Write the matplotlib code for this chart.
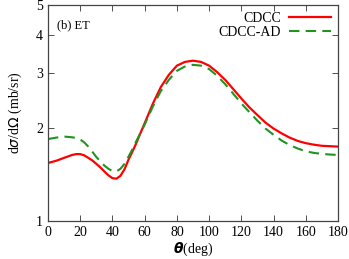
import matplotlib
matplotlib.use("Agg")
import matplotlib.pyplot as plt
from matplotlib.ticker import FixedLocator, NullLocator, FixedFormatter

# angles (deg) and cross sections (mb/sr)
theta = [0, 5, 10, 15, 17.5, 20, 22.5, 25, 27.5, 30, 32.5, 35, 37.5, 40, 42.5, 45,
         47.5, 50, 52.5, 55, 57.5, 60, 65, 70, 75, 80, 85, 90, 95, 100, 105, 110,
         115, 120, 125, 130, 135, 140, 145, 150, 155, 160, 165, 170, 175, 180]
cdcc = [1.54, 1.565, 1.60, 1.635, 1.645, 1.645, 1.63, 1.60, 1.57, 1.53, 1.49, 1.445,
        1.405, 1.375, 1.37, 1.40, 1.47, 1.58, 1.68, 1.795, 1.93, 2.07, 2.39, 2.71,
        2.97, 3.18, 3.27, 3.30, 3.27, 3.18, 3.03, 2.86, 2.67, 2.49, 2.33, 2.20, 2.08,
        1.99, 1.92, 1.86, 1.815, 1.785, 1.765, 1.75, 1.745, 1.74]
cdcc_ad = [1.84, 1.86, 1.875, 1.865, 1.855, 1.835, 1.795, 1.74, 1.675, 1.61, 1.56,
           1.51, 1.475, 1.45, 1.447, 1.475, 1.53, 1.615, 1.71, 1.82, 1.93, 2.05,
           2.34, 2.63, 2.86, 3.06, 3.16, 3.20, 3.18, 3.10, 2.95, 2.77, 2.58, 2.40,
           2.25, 2.11, 1.99, 1.90, 1.82, 1.76, 1.715, 1.68, 1.66, 1.648, 1.64, 1.635]
yticks = [1, 2, 3, 4, 5]
xticks = list(range(0, 181, 20))

plt.rcParams["font.family"] = ["Liberation Serif", "DejaVu Serif"]
plt.rcParams["mathtext.fontset"] = "dejavusans"

fig = plt.figure(figsize=(3.49, 2.59), dpi=100)
ax = fig.add_axes([0.1375, 0.147, 0.831, 0.834])

ax.plot(theta, cdcc, color="#ff0000", lw=1.6, label="CDCC")
ax.plot(theta, cdcc_ad, color="#1f951f", lw=1.5, ls=(0, (5, 3)), label="CDCC-AD")

ax.set_yscale("log")
ax.set_xlim(0, 180)
ax.set_ylim(1, 5)
ax.yaxis.set_major_locator(FixedLocator(yticks))
ax.yaxis.set_major_formatter(FixedFormatter([str(t) for t in yticks]))
ax.yaxis.set_minor_locator(NullLocator())
ax.set_xticks(xticks)

ax.tick_params(direction="in", top=True, right=True, length=4, width=0.6,
               labelsize=10, colors="#333333", labelcolor="black")
for s in ax.spines.values():
    s.set_linewidth(0.9)
    s.set_color("#444444")

ax.set_xlabel(r"$\boldsymbol{\theta}$(deg)", fontsize=10, labelpad=1)
ax.set_ylabel(r"d$\sigma$/d$\Omega$ (mb/sr)", fontsize=10, labelpad=9)

ax.text(0.03, 0.907, "(b) ET", transform=ax.transAxes, fontsize=9, va="center")

ax.legend(loc="upper right", frameon=False, markerfirst=False, fontsize=10,
          handlelength=3.0, handletextpad=0.6, borderaxespad=0.1,
          labelspacing=0.1)

fig.savefig("out.png", dpi=100)
